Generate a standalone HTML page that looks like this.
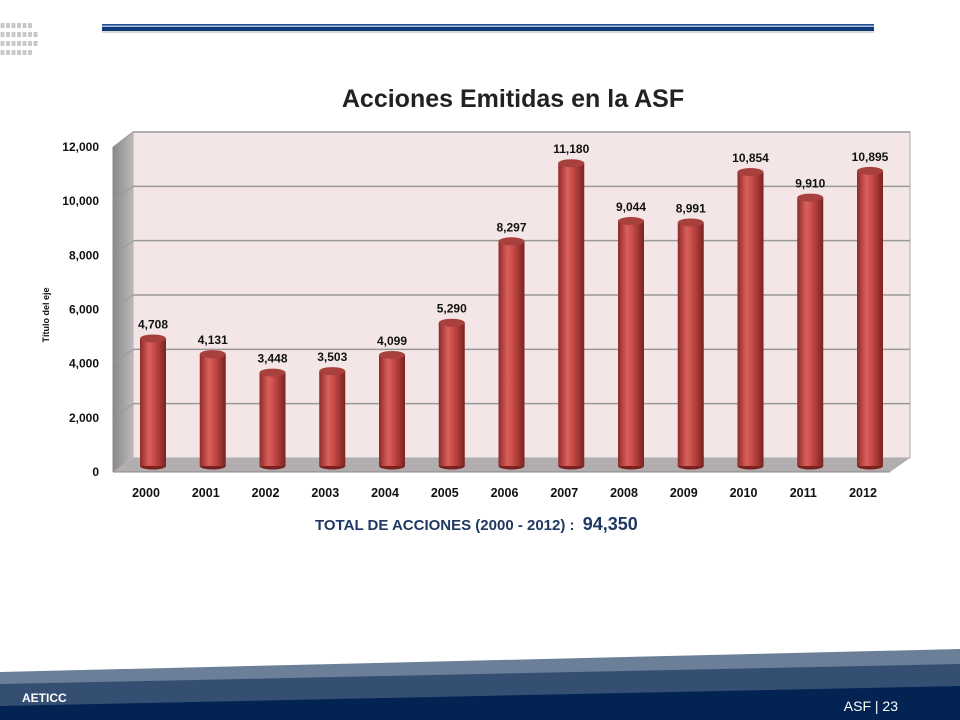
<!DOCTYPE html>
<html><head><meta charset="utf-8"><style>
body{margin:0;width:960px;height:720px;overflow:hidden;background:#fff;font-family:"Liberation Sans",sans-serif}
svg{position:absolute;left:0;top:0}
</style></head><body>
<svg width="960" height="720">
<defs>
<linearGradient id="cyl" x1="0" x2="1" y1="0" y2="0">
<stop offset="0" stop-color="#8e2a28"/><stop offset="0.35" stop-color="#d9605c"/><stop offset="0.55" stop-color="#c94c48"/><stop offset="1" stop-color="#7a2220"/></linearGradient>
<linearGradient id="side" x1="0" x2="1"><stop offset="0" stop-color="#8a8788"/><stop offset="1" stop-color="#bdb9ba"/></linearGradient>
</defs>
<g fill="#c8c8c8" id="dots"></g>
<rect x="102" y="31" width="772" height="2" fill="#d8d8d8"/>
<rect x="102" y="24" width="772" height="1.5" fill="#1f4e8c"/>
<rect x="102" y="25.5" width="772" height="1.5" fill="#a9c2e2"/>
<rect x="102" y="27" width="772" height="4" fill="#0f3a78"/>
<text x="513" y="107" text-anchor="middle" font-size="25" font-weight="bold" fill="#222">Acciones Emitidas en la ASF</text>
<polygon points="133,132 910,132 910,458 133,458" fill="#f4e6e6" stroke="#aaa"/>
<polygon points="113,147 133,132 133,458 113,472" fill="url(#side)"/>
<polygon points="113,472 133,458 910,458 890,472" fill="#b2adae"/>
<g id="grid"></g>
<line x1="113" y1="147" x2="113" y2="472" stroke="#888"/>
<line x1="113" y1="472" x2="890" y2="472" stroke="#888"/>
<g id="yt" font-size="12" font-weight="bold" fill="#111" text-anchor="end"></g>
<text transform="translate(49,315) rotate(-90)" text-anchor="middle" font-size="9" font-weight="bold" fill="#111">Título del eje</text>
<g id="bars"></g>
<text x="315" y="530" font-size="15" font-weight="bold" fill="#1f3864">TOTAL DE ACCIONES (2000 - 2012) :  <tspan font-size="18" dx="4">94,350</tspan></text>
<polygon points="0,672 960,649 960,720 0,720" fill="#6b7f99"/>
<polygon points="0,684 960,664 960,720 0,720" fill="#354f73"/>
<polygon points="0,706 960,686 960,720 0,720" fill="#032352"/>
<text x="22" y="702" font-size="12" font-weight="bold" fill="#fff">AETICC</text>
<text x="898" y="711" text-anchor="end" font-size="14" fill="#fff">ASF | 23</text>
</svg>
<script>
const years=["2000","2001","2002","2003","2004","2005","2006","2007","2008","2009","2010","2011","2012"];
const values=[4708,4131,3448,3503,4099,5290,8297,11180,9044,8991,10854,9910,10895];
const valueLabels=["4,708","4,131","3,448","3,503","4,099","5,290","8,297","11,180","9,044","8,991","10,854","9,910","10,895"];
const yTicks=[0,2000,4000,6000,8000,10000,12000];
const yTickLabels=["0","2,000","4,000","6,000","8,000","10,000","12,000"];
const NS="http://www.w3.org/2000/svg";
function mk(t,a,p){const e=document.createElementNS(NS,t);for(const k in a)e.setAttribute(k,a[k]);p.appendChild(e);return e;}
const yAxis=v=>472-v*(325/12000);
const yBack=v=>458-v*(326/12000);
const yBar=v=>466-v*(325/12000);
const xC=i=>153+i*59.75;
const dots=document.getElementById('dots');
[6,7,7,6].forEach((n,j)=>{for(let i=0;i<n;i++){const d=mk('rect',{x:i*5.5+0.5,y:23+j*9,width:4,height:5},dots);

}});
const grid=document.getElementById('grid'),yt=document.getElementById('yt');
yTicks.forEach((v,i)=>{
 if(v>0){const l=mk('line',{x1:133,x2:910,y1:yBack(v),y2:yBack(v),stroke:'#999','stroke-width':1.5},grid);
 
 
 const d=mk('line',{x1:113,x2:133,y1:yAxis(v),y2:yBack(v),stroke:'#999'},grid);
 
 }
 const t=mk('text',{x:99,y:yAxis(v)+4},yt);t.textContent=yTickLabels[i];
 
 
});
const bars=document.getElementById('bars');
values.forEach((v,i)=>{
 const cx=xC(i),top=yBar(v),w=26,bot=466;
 const g=mk('g',{},bars);
 
 
 mk('ellipse',{cx:cx,cy:bot,rx:w/2,ry:3.5,fill:'#7a2220'},g);
 mk('rect',{x:cx-w/2,y:top,width:w,height:bot-top,fill:'url(#cyl)'},g);
 mk('ellipse',{cx:cx,cy:top,rx:w/2,ry:4,fill:'#a8403d'},g);
 const t=mk('text',{x:cx,y:top-10,'text-anchor':'middle','font-size':12,'font-weight':'bold',fill:'#111'},bars);
 t.textContent=valueLabels[i];
 
 
 const x=mk('text',{x:cx-7,y:497,'text-anchor':'middle','font-size':12.5,'font-weight':'bold',fill:'#111'},bars);
 x.textContent=years[i];
 
 
});
</script>
</body></html>
